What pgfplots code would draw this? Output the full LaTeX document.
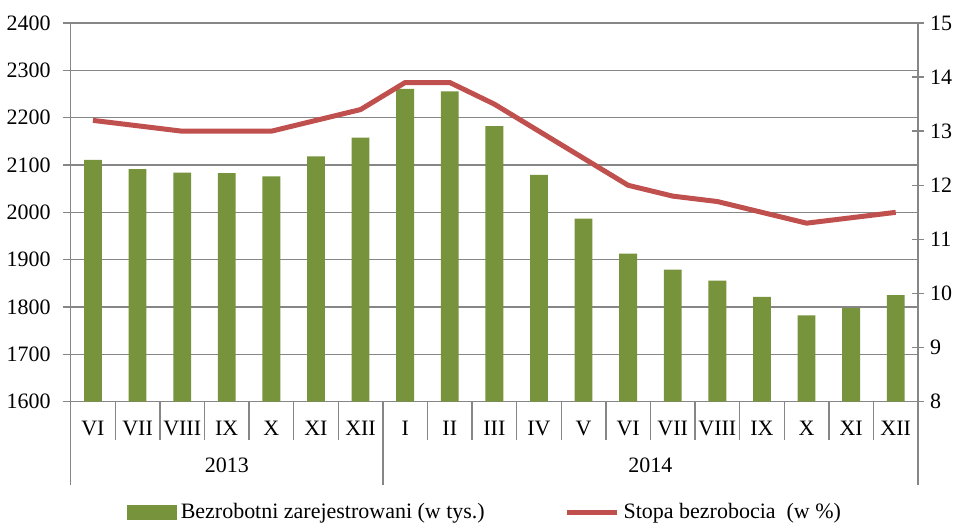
\documentclass[border=0pt]{standalone}
\usepackage{fontspec}
\setmainfont{Liberation Serif}
\usepackage{pgfplots}
\pgfplotsset{compat=1.18}
\definecolor{bargreen}{HTML}{77933C}
\definecolor{linered}{HTML}{C0504D}
\definecolor{gridgray}{HTML}{868686}
\begin{document}
\begin{tikzpicture}[font=\fontsize{11}{13.2}\selectfont]
\begin{axis}[
  scale only axis, width=424pt, height=189.5pt,
  xmin=-0.5, xmax=18.5, ymin=1600, ymax=2400,
  ytick={1600,1700,...,2400},
  axis y line*=left, axis x line*=bottom,
  axis line style={gridgray, line width=0.7pt},
  ymajorgrids, grid style={gridgray, line width=0.7pt},
  xtick={0,...,18},
  xticklabels={VI,VII,VIII,IX,X,XI,XII,I,II,III,IV,V,VI,VII,VIII,IX,X,XI,XII},
  major x tick style={draw=none},
  xticklabel style={anchor=center, yshift=-9.5pt},
  y tick style={gridgray, line width=0.7pt}, tick align=outside, major tick length=4pt,
  yticklabel style={xshift=-2.5pt},
  /pgf/number format/assume math mode=true,
  /pgf/number format/set thousands separator={},
  legend style={at={(0.49,-0.293)}, anchor=center, draw=none, fill=none,
    legend columns=2, /tikz/every even column/.append style={column sep=38pt},
    font=\fontsize{11}{13.2}\selectfont},
  legend cell align=left,
]
\addplot[ybar, bar width=0.4, fill=bargreen, draw=none,
  legend image code/.code={\fill[bargreen] (0pt,-3.75pt) rectangle (25pt,3.75pt);}]
coordinates {
(0,2111.1) (1,2091.5) (2,2083.9) (3,2083.0) (4,2075.9) (5,2118.1) (6,2157.9)
(7,2260.7) (8,2255.7) (9,2182.2) (10,2079.2) (11,1986.7) (12,1912.8) (13,1879.0)
(14,1855.6) (15,1821.3) (16,1782.5) (17,1797.5) (18,1825.2)};
\addlegendentry{Bezrobotni zarejestrowani (w tys.)}
\addlegendimage{linered, line width=2.5pt, legend image code/.code={\draw[linered, line width=2.5pt] (0pt,0pt) -- (25pt,0pt);}}
\addlegendentry{Stopa bezrobocia\ \ (w \%)}
\end{axis}
\begin{axis}[
  scale only axis, width=424pt, height=189.5pt,
  xmin=-0.5, xmax=18.5, ymin=8, ymax=15,
  ytick={8,...,15},
  axis y line*=right, axis x line=none,
  axis line style={gridgray, line width=0.7pt},
  y tick style={gridgray, line width=0.7pt}, tick align=center, major tick length=6pt,
  yticklabel style={xshift=-0.5pt},
  /pgf/number format/assume math mode=true,
]
\addplot[linered, line width=2.5pt, line join=round, no marks]
coordinates {
(0,13.2) (1,13.1) (2,13.0) (3,13.0) (4,13.0) (5,13.2) (6,13.4)
(7,13.9) (8,13.9) (9,13.5) (10,13.0) (11,12.5) (12,12.0) (13,11.8)
(14,11.7) (15,11.5) (16,11.3) (17,11.4) (18,11.5)};
\end{axis}
\foreach \k in {1,...,6,8,9,...,18} {
  \draw[gridgray, line width=0.7pt] ({\k*424/19*1pt},0) -- ++(0,-19pt);
}
\foreach \k in {0,7,19} {
  \draw[gridgray, line width=0.7pt] ({\k*424/19*1pt},0) -- ++(0,-41.5pt);
}
\node at ({3.5*424/19*1pt},-32pt) {2013};
\node at ({13*424/19*1pt},-32pt) {2014};
\useasboundingbox (-35pt,-61.5pt) rectangle (446pt,201pt);
\end{tikzpicture}
\end{document}
